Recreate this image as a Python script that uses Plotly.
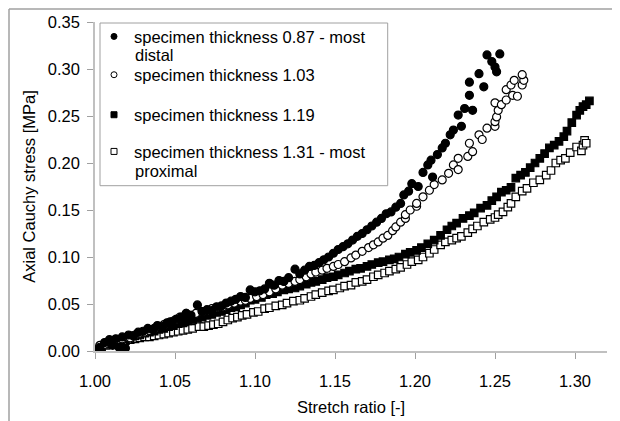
import plotly.graph_objects as go

# ---- data ----
s1_name = "specimen thickness 0.87 - most"
s1_name2 = "distal"
s1_x = [1.003,1.006,1.009,1.011,1.013,1.015,1.017,1.019,1.021,1.024,1.027,1.030,1.033,1.036,1.039,1.042,1.045,1.048,1.051,1.054,1.057,1.060,1.064,1.067,1.070,1.073,1.076,1.079,1.082,1.085,1.088,1.091,1.094,1.097,1.100,1.103,1.106,1.109,1.112,1.115,1.118,1.121,1.125,1.128,1.131,1.134,1.137,1.140,1.143,1.146,1.149,1.152,1.155,1.158,1.161,1.164,1.167,1.170,1.173,1.176,1.179,1.182,1.185,1.188,1.191,1.193,1.196,1.198,1.202,1.205,1.208,1.210,1.211,1.214,1.217,1.219,1.222,1.224,1.227,1.229,1.231,1.234,1.234,1.236,1.240,1.243,1.245,1.248,1.250,1.251,1.253]
s1_y = [0.004,0.009,0.012,0.006,0.013,0.004,0.015,0.003,0.017,0.016,0.020,0.021,0.024,0.023,0.027,0.026,0.030,0.031,0.034,0.036,0.040,0.038,0.049,0.042,0.044,0.043,0.047,0.048,0.051,0.053,0.055,0.058,0.057,0.065,0.063,0.064,0.066,0.072,0.070,0.075,0.074,0.078,0.087,0.082,0.086,0.090,0.091,0.094,0.097,0.100,0.104,0.108,0.111,0.114,0.118,0.122,0.125,0.129,0.133,0.137,0.141,0.146,0.148,0.153,0.157,0.166,0.170,0.178,0.175,0.190,0.198,0.203,0.185,0.209,0.216,0.221,0.230,0.235,0.251,0.239,0.258,0.272,0.286,0.256,0.295,0.281,0.315,0.308,0.302,0.297,0.316]

s2_name = "specimen thickness 1.03"
s2_x = [1.003,1.006,1.009,1.011,1.014,1.017,1.020,1.022,1.025,1.028,1.031,1.034,1.037,1.040,1.043,1.047,1.050,1.053,1.057,1.060,1.063,1.067,1.070,1.073,1.076,1.080,1.083,1.087,1.091,1.094,1.097,1.101,1.105,1.109,1.113,1.117,1.121,1.125,1.128,1.132,1.135,1.138,1.142,1.145,1.149,1.152,1.156,1.160,1.163,1.167,1.171,1.174,1.177,1.180,1.183,1.186,1.188,1.191,1.194,1.194,1.197,1.201,1.201,1.205,1.209,1.212,1.217,1.221,1.224,1.227,1.227,1.233,1.234,1.236,1.240,1.242,1.245,1.250,1.250,1.251,1.250,1.252,1.254,1.257,1.257,1.260,1.261,1.262,1.264,1.267,1.268,1.267]
s2_y = [0.006,0.007,0.010,0.009,0.012,0.013,0.015,0.014,0.017,0.019,0.020,0.022,0.024,0.026,0.028,0.031,0.033,0.036,0.040,0.038,0.040,0.042,0.043,0.045,0.046,0.047,0.049,0.051,0.053,0.054,0.056,0.058,0.060,0.063,0.066,0.070,0.072,0.074,0.076,0.079,0.082,0.084,0.086,0.088,0.090,0.092,0.095,0.099,0.102,0.106,0.110,0.113,0.116,0.120,0.123,0.128,0.132,0.137,0.141,0.145,0.150,0.154,0.157,0.164,0.171,0.177,0.182,0.189,0.198,0.193,0.205,0.207,0.221,0.212,0.230,0.225,0.237,0.239,0.244,0.249,0.264,0.256,0.262,0.267,0.278,0.283,0.272,0.288,0.271,0.283,0.288,0.294]

s3_name = "specimen thickness 1.19"
s3_x = [1.001,1.004,1.007,1.010,1.013,1.016,1.019,1.022,1.025,1.028,1.031,1.034,1.037,1.040,1.043,1.046,1.049,1.052,1.055,1.058,1.061,1.064,1.067,1.070,1.073,1.076,1.079,1.082,1.085,1.088,1.091,1.094,1.097,1.100,1.104,1.107,1.111,1.114,1.118,1.121,1.125,1.128,1.132,1.135,1.138,1.142,1.145,1.149,1.152,1.156,1.159,1.163,1.166,1.170,1.173,1.177,1.180,1.184,1.187,1.190,1.194,1.197,1.201,1.204,1.208,1.212,1.216,1.220,1.223,1.226,1.230,1.234,1.237,1.241,1.245,1.248,1.251,1.254,1.257,1.260,1.263,1.266,1.269,1.272,1.275,1.278,1.281,1.284,1.287,1.290,1.293,1.295,1.298,1.301,1.303,1.305,1.307,1.309]
s3_y = [0.002,0.004,0.007,0.009,0.010,0.012,0.013,0.014,0.016,0.017,0.019,0.020,0.021,0.023,0.024,0.026,0.027,0.029,0.030,0.032,0.033,0.035,0.036,0.038,0.039,0.041,0.042,0.044,0.046,0.047,0.049,0.051,0.054,0.055,0.057,0.060,0.061,0.063,0.065,0.066,0.067,0.069,0.071,0.073,0.074,0.076,0.078,0.079,0.081,0.083,0.085,0.087,0.088,0.090,0.092,0.094,0.095,0.097,0.098,0.100,0.103,0.105,0.107,0.110,0.114,0.118,0.123,0.129,0.133,0.136,0.141,0.144,0.147,0.152,0.155,0.160,0.164,0.169,0.171,0.174,0.184,0.187,0.190,0.195,0.200,0.205,0.210,0.216,0.219,0.223,0.228,0.234,0.243,0.251,0.256,0.260,0.262,0.266]

s4_name = "specimen thickness 1.31 - most"
s4_name2 = "proximal"
s4_x = [1.000,1.004,1.007,1.010,1.013,1.016,1.019,1.022,1.025,1.028,1.031,1.034,1.037,1.040,1.043,1.046,1.049,1.052,1.055,1.058,1.061,1.065,1.068,1.071,1.074,1.077,1.080,1.083,1.086,1.089,1.092,1.095,1.099,1.102,1.106,1.109,1.113,1.117,1.120,1.124,1.128,1.131,1.135,1.138,1.142,1.146,1.149,1.153,1.156,1.160,1.163,1.167,1.170,1.174,1.177,1.181,1.184,1.188,1.191,1.195,1.198,1.202,1.205,1.209,1.212,1.216,1.219,1.223,1.226,1.229,1.233,1.236,1.239,1.243,1.247,1.250,1.252,1.255,1.258,1.260,1.263,1.267,1.270,1.274,1.278,1.282,1.285,1.288,1.291,1.294,1.297,1.301,1.304,1.305,1.306,1.307]
s4_y = [0.001,0.004,0.006,0.008,0.009,0.010,0.011,0.012,0.013,0.014,0.015,0.015,0.016,0.017,0.018,0.019,0.020,0.021,0.022,0.023,0.024,0.026,0.026,0.027,0.028,0.029,0.031,0.033,0.035,0.036,0.038,0.039,0.041,0.042,0.045,0.046,0.048,0.049,0.051,0.053,0.054,0.056,0.058,0.060,0.062,0.064,0.065,0.067,0.069,0.070,0.073,0.074,0.076,0.079,0.081,0.083,0.085,0.087,0.089,0.092,0.095,0.097,0.100,0.104,0.108,0.113,0.116,0.118,0.120,0.122,0.126,0.130,0.133,0.137,0.140,0.142,0.145,0.148,0.153,0.157,0.164,0.170,0.173,0.179,0.182,0.187,0.192,0.200,0.203,0.205,0.211,0.217,0.213,0.219,0.224,0.221]

x_ticks = [1.00, 1.05, 1.10, 1.15, 1.20, 1.25, 1.30]
y_ticks = [0.00, 0.05, 0.10, 0.15, 0.20, 0.25, 0.30, 0.35]
x_title = "Stretch ratio [-]"
y_title = "Axial Cauchy stress [MPa]"

FONT = "Liberation Sans, Arial, sans-serif"
FS = 16.5

# The page body has an 8px margin, so the figure is drawn 8px right/down.
OFF = 8
W, H = 620 - OFF, 421 - OFF
# plot area in page pixels: x 95..607, y 22..351
L, R, T, B = 95 - OFF, 13, 22 - OFF, 70
PW, PH = W - L - R, H - T - B


def px(xp):  # page x pixel -> paper coordinate
    return (xp - OFF - L) / PW


def py(yp):  # page y pixel -> paper coordinate
    return (H - B - (yp - OFF)) / PH


series = [
    (s1_name, s1_x, s1_y, "circle", "black", "legend", 36.7),
    (s2_name, s2_x, s2_y, "circle", "white", "legend2", 75),
    (s3_name, s3_x, s3_y, "square", "black", "legend3", 115),
    (s4_name, s4_x, s4_y, "square", "white", "legend4", 151.7),
]

fig = go.Figure()
# data marks (drawn in reverse so the first series lies on top)
for name, xs, ys, sym, fill, lg, ly in reversed(series):
    fig.add_trace(go.Scatter(
        x=xs, y=ys, mode="markers", showlegend=False, name=name,
        marker=dict(symbol=sym, size=8 if sym == "circle" else 7.5, color=fill,
                    line=dict(color="black", width=1.2)),
    ))
# legend entries with small markers, one legend per entry
legends = {}
for name, xs, ys, sym, fill, lg, ly in series:
    fig.add_trace(go.Scatter(
        x=[None], y=[None], mode="markers", name=name, showlegend=True, legend=lg,
        marker=dict(symbol=sym, size=6, color=fill, line=dict(color="black", width=1)),
    ))
    legends[lg] = dict(x=px(94), y=py(ly), xanchor="left", yanchor="middle",
                       borderwidth=0, bgcolor="rgba(0,0,0,0)",
                       font=dict(family=FONT, size=FS, color="black"))

fig.update_layout(
    width=W, height=H,
    margin=dict(l=L, r=R, t=T, b=B, autoexpand=False),
    paper_bgcolor="white", plot_bgcolor="white",
    font=dict(family=FONT, size=FS, color="black"),
    showlegend=True,
    **legends,
    xaxis=dict(range=[1.0, 1.32], tickvals=x_ticks, automargin=False,
               ticktext=[f"{v:.2f}" for v in x_ticks],
               showgrid=False, zeroline=False, showline=True,
               linecolor="#c0c0c0", linewidth=1.5,
               ticks="outside", ticklen=6, tickcolor="#a0a0a0", tickwidth=1,
               ticklabelstandoff=8,
               title=dict(text=x_title, font=dict(size=FS), standoff=13)),
    yaxis=dict(range=[0.0, 0.35], tickvals=y_ticks, automargin=False,
               ticktext=[f"{v:.2f}" for v in y_ticks],
               showgrid=False, zeroline=False, showline=True,
               linecolor="#c0c0c0", linewidth=1.5,
               ticks="outside", ticklen=6, tickcolor="#a0a0a0", tickwidth=1,
               ticklabelstandoff=4,
               title=dict(text=y_title, font=dict(size=FS), standoff=8)),
    shapes=[
        # legend box
        dict(type="rect", xref="paper", yref="paper", x0=px(100), x1=px(387.7),
             y0=py(185.7), y1=py(23), line=dict(color="#a0a0a0", width=1),
             fillcolor="white", layer="below"),
        # outer frame (top and left edges)
        dict(type="line", xref="paper", yref="paper", x0=px(9), x1=px(625),
             y0=py(9), y1=py(9), line=dict(color="#a0a0a0", width=1.5)),
        dict(type="line", xref="paper", yref="paper", x0=px(9), x1=px(9),
             y0=py(9), y1=py(426), line=dict(color="#a0a0a0", width=1.5)),
    ],
    annotations=[
        dict(text=s1_name2, xref="paper", yref="paper", x=px(133), y=py(55),
             xanchor="left", yanchor="middle", showarrow=False,
             font=dict(family=FONT, size=FS, color="black")),
        dict(text=s4_name2, xref="paper", yref="paper", x=px(133), y=py(171),
             xanchor="left", yanchor="middle", showarrow=False,
             font=dict(family=FONT, size=FS, color="black")),
    ],
)

fig.write_html("out.html")
